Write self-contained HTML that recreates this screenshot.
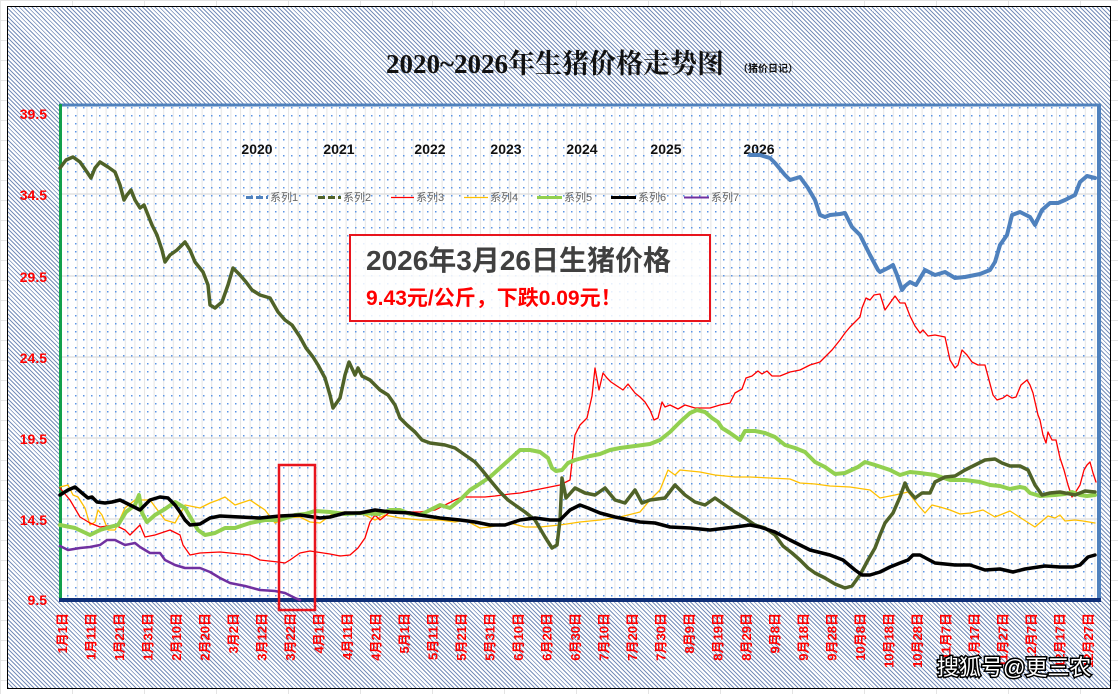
<!DOCTYPE html>
<html><head><meta charset="utf-8"><style>
body{margin:0;width:1118px;height:694px;overflow:hidden;background:#fff;position:relative;font-family:"Liberation Sans","Noto Sans CJK SC",sans-serif}
.grid{position:absolute;left:0;top:0;width:1118px;height:694px;background-image:linear-gradient(#e4e4e4 1px,transparent 1px),linear-gradient(90deg,#e4e4e4 1px,transparent 1px);background-size:72px 20px}
.frame{position:absolute;left:7px;top:6px;width:1102px;height:681px;border:1px solid #000;background:repeating-linear-gradient(45deg,#7890bb 0 1px,#fff 1px 3px)}
</style></head><body>
<div class="grid"></div>
<div class="frame"></div>
<svg width="1118" height="694" style="position:absolute;left:0;top:0" font-family="Liberation Sans, Noto Sans CJK SC, sans-serif">
<defs>
<pattern id="dots" width="8" height="8" patternUnits="userSpaceOnUse"><rect x="3" y="3" width="1.5" height="1.5" fill="#5b95e6"/></pattern>
<pattern id="vg" width="9.6" height="10" patternUnits="userSpaceOnUse"><rect x="0" y="0" width="1" height="10" fill="#e6e6e6"/></pattern>
</defs>
<rect x="59" y="104" width="1042" height="496" fill="#fff"/>
<rect x="59" y="104" width="1042" height="496" fill="url(#vg)"/>
<g stroke="#dcdcdc" stroke-width="1.2"><line x1="59" x2="1100" y1="194" y2="194"/><line x1="59" x2="1100" y1="276" y2="276"/><line x1="59" x2="1100" y1="357" y2="357"/><line x1="59" x2="1100" y1="438" y2="438"/><line x1="59" x2="1100" y1="519" y2="519"/></g>
<rect x="59" y="104" width="1042" height="496" fill="url(#dots)"/>
<line x1="59" y1="105" x2="1101" y2="105" stroke="#4f81bd" stroke-width="3"/>
<line x1="1099" y1="104" x2="1099" y2="600" stroke="#4f81bd" stroke-width="4"/>
<line x1="60.5" y1="104" x2="60.5" y2="600" stroke="#12a04c" stroke-width="3"/>
<line x1="59" y1="600" x2="1101" y2="600" stroke="#0f2f78" stroke-width="4"/>
<text x="555" y="73" text-anchor="middle" font-family="Liberation Serif, Noto Serif CJK SC, serif" font-weight="bold" font-size="27" fill="#111">2020~2026年生猪价格走势图</text>
<text x="738" y="72" font-size="10" font-weight="bold" fill="#111">（猪价日记）</text>
<g font-size="14" font-weight="bold" fill="#111" text-anchor="middle"><text x="257" y="154">2020</text><text x="339" y="154">2021</text><text x="430" y="154">2022</text><text x="506" y="154">2023</text><text x="582" y="154">2024</text><text x="666" y="154">2025</text><text x="759" y="154">2026</text></g>
<g font-size="11" fill="#666">
<line x1="246" x2="268" y1="197.5" y2="197.5" stroke="#4f81bd" stroke-width="3" stroke-dasharray="7,3"/><text x="270" y="201">系列1</text>
<line x1="318" x2="341" y1="197.5" y2="197.5" stroke="#4f6228" stroke-width="3" stroke-dasharray="7,3"/><text x="343" y="201">系列2</text>
<line x1="391" x2="414" y1="197.5" y2="197.5" stroke="#f00" stroke-width="1.3"/><text x="416" y="201">系列3</text>
<line x1="464" x2="488" y1="197.5" y2="197.5" stroke="#ffc000" stroke-width="1.3"/><text x="490" y="201">系列4</text>
<line x1="537" x2="562" y1="197.5" y2="197.5" stroke="#92d050" stroke-width="3"/><text x="564" y="201">系列5</text>
<line x1="611" x2="636" y1="197.5" y2="197.5" stroke="#000" stroke-width="3"/><text x="638" y="201">系列6</text>
<line x1="684" x2="709" y1="197.5" y2="197.5" stroke="#7030a0" stroke-width="2"/><text x="711" y="201">系列7</text>
</g>
<g fill="none" stroke-linejoin="round" stroke-linecap="round">
<polyline stroke="#ffc000" stroke-width="1.3" points="60,487 68,485 73,495 78,497 85,508 90,525 95,522 98,510 102,515 108,530 115,530 125,508 135,500 150,500 165,520 175,523 185,505 200,508 210,503 218,500 225,497 235,505 250,500 265,510 275,523 285,518 300,517 310,522 320,523 335,512 350,512 365,515 375,520 385,515 400,518 420,520 440,520 455,522 465,520 480,528 490,527 500,525 510,523 525,527 540,527 560,525 580,522 600,520 620,517 640,512 650,500 660,490 668,470 675,475 680,470 700,472 715,475 735,477 750,477 770,478 790,479 800,483 815,484 830,486 850,487 870,490 880,498 895,495 908,492 918,505 925,513 932,505 940,507 950,510 960,514 970,513 983,510 995,517 1010,511 1024,520 1035,527 1048,516 1055,518 1060,515 1065,521 1075,520 1083,521 1095,523"/>
<polyline stroke="#f00" stroke-width="1.3" points="60,488 70,500 80,517 90,523 100,527 115,525 125,530 130,535 135,530 140,525 145,537 155,535 170,530 180,535 183,545 190,555 200,553 220,552 240,554 250,555 260,560 278,562 285,563 290,560 300,553 310,551 330,554 340,556 350,555 358,548 365,538 370,522 375,515 380,520 390,512 398,510 410,512 420,512 435,510 445,505 455,500 462,497 470,497 485,497 495,496 510,494 520,493 540,489 560,485 570,480 575,435 580,425 587,418 592,396 595,368 599,390 603,373 607,378 611,382 617,386 623,390 628,384 635,393 640,397 645,402 650,410 654,420 658,418 662,402 665,407 670,405 678,409 685,405 695,408 710,408 720,405 730,403 735,393 742,389 746,378 752,376 758,371 762,374 767,371 772,376 780,376 790,372 800,370 810,365 820,362 825,357 832,350 840,340 845,333 850,327 855,322 860,317 862,308 866,298 870,300 874,295 880,294 885,310 890,303 895,296 900,303 905,303 910,316 915,326 920,333 923,330 928,336 935,335 945,337 950,360 955,368 958,365 962,350 967,355 972,362 978,365 985,365 989,380 993,395 997,400 1003,398 1007,395 1012,398 1016,397 1021,385 1027,380 1030,385 1033,393 1038,415 1040,420 1043,435 1046,443 1048,432 1052,440 1056,440 1060,458 1064,470 1068,485 1072,497 1075,493 1080,485 1084,470 1087,465 1090,462 1093,473 1096,482"/>
<polyline stroke="#92d050" stroke-width="4" points="60,525 75,528 90,535 100,530 110,527 118,525 126,512 135,505 139,495 142,513 147,522 155,515 165,509 175,502 185,508 192,520 198,530 205,535 215,533 225,528 235,528 250,523 265,520 280,520 295,515 305,514 315,511 330,512 345,514 360,513 378,514 390,510 400,510 410,514 420,515 430,510 440,505 450,508 460,500 470,490 478,485 490,477 500,468 510,459 520,450 530,450 540,452 548,458 552,468 556,471 562,470 568,463 575,460 590,456 600,454 610,450 620,448 635,446 650,444 660,440 670,432 680,422 690,413 697,410 705,412 712,418 718,422 722,428 730,433 740,440 745,431 755,431 765,433 775,437 785,445 795,448 805,452 815,462 825,467 835,474 845,473 858,467 865,462 875,465 890,470 900,475 910,472 920,473 935,475 950,480 965,480 980,482 990,485 1000,486 1010,489 1020,487 1025,488 1030,493 1040,496 1055,495 1065,494 1072,492 1080,495 1087,496 1095,495"/>
<polyline stroke="#4f6228" stroke-width="3.5" points="60,168 66,160 73,157 80,162 87,172 91,178 95,168 100,162 108,167 115,172 120,185 124,200 127,195 131,190 135,200 140,208 144,205 148,215 152,225 157,235 162,250 165,262 170,255 177,250 185,242 190,250 195,262 203,272 208,285 210,305 215,308 222,302 228,285 233,268 240,275 246,282 252,290 260,295 270,298 278,312 285,320 292,325 300,337 306,348 313,357 318,365 325,378 330,395 333,408 340,398 345,375 349,362 355,375 358,368 362,376 370,380 380,390 388,395 395,405 400,418 407,425 415,432 422,440 430,443 445,445 455,448 465,455 475,462 482,470 490,480 500,492 508,500 515,505 525,512 535,520 545,537 552,548 557,545 560,520 562,478 566,498 575,488 585,493 595,495 605,488 615,500 625,503 635,490 642,503 650,500 665,498 675,485 685,495 695,502 705,505 715,498 725,505 735,512 745,518 755,525 765,528 775,535 783,546 792,553 800,560 808,568 815,573 825,578 835,584 845,588 852,586 860,575 868,560 875,548 880,535 885,523 893,513 900,497 905,483 908,490 915,498 922,493 930,493 935,482 945,477 955,476 965,470 975,465 985,460 995,459 1002,463 1010,466 1020,466 1028,470 1035,485 1042,495 1050,493 1060,492 1075,495 1085,491 1095,492"/>
<polyline stroke="#000" stroke-width="3.5" points="60,495 68,490 75,487 82,493 88,498 92,497 97,502 105,503 112,502 120,500 130,505 140,510 145,505 150,500 160,497 168,498 175,505 180,512 185,520 190,525 200,524 210,518 220,516 240,517 260,518 280,516 300,515 320,518 330,517 345,513 360,513 375,510 390,512 410,513 420,515 440,518 460,520 475,522 490,525 505,525 520,520 535,518 550,520 560,520 570,510 580,505 588,508 600,513 615,517 630,520 640,522 655,523 670,527 690,528 710,530 735,527 750,525 760,527 775,532 790,540 800,545 810,550 830,555 843,560 855,570 862,575 870,575 880,572 890,567 900,563 908,560 913,555 920,555 935,563 955,565 970,565 985,570 1000,569 1013,572 1025,569 1045,566 1060,567 1073,567 1080,565 1088,557 1095,555"/>
<polyline stroke="#7030a0" stroke-width="2.5" points="60,546 68,550 80,548 90,547 100,545 107,540 115,540 125,545 135,543 140,547 145,550 150,553 160,553 165,560 175,565 185,568 200,568 210,572 220,578 230,583 245,586 260,590 275,591 285,593 295,598 300,600"/>
<polyline stroke="#4f81bd" stroke-width="4" points="750,155 760,155 770,158 775,163 785,175 790,180 800,177 808,188 815,200 820,215 825,217 830,215 840,214 845,213 852,227 860,235 870,255 878,270 880,272 888,268 893,265 897,275 902,290 905,286 910,282 916,285 925,270 935,275 945,272 955,278 965,277 980,274 990,270 995,262 1000,245 1007,235 1012,215 1020,212 1030,217 1035,225 1042,210 1050,203 1058,203 1065,200 1075,195 1080,182 1087,176 1095,178"/>
</g>
<rect x="279" y="465" width="36" height="145" fill="none" stroke="#e8141c" stroke-width="2.5"/>
<rect x="350" y="235" width="360" height="86" fill="#fff" fill-opacity="0.85" stroke="#e8141c" stroke-width="2"/>
<text x="366" y="270" font-size="28" font-weight="bold" fill="#404040">2026年3月26日生猪价格</text>
<text x="366" y="305" font-size="21" font-weight="bold" fill="#f00">9.43元/公斤，下跌0.09元！</text>
<g font-size="14" font-weight="bold" fill="#f00" text-anchor="end"><text x="47" y="119">39.5</text><text x="47" y="200">34.5</text><text x="47" y="282">29.5</text><text x="47" y="363">24.5</text><text x="47" y="444">19.5</text><text x="47" y="525">14.5</text><text x="47" y="605">9.5</text></g>
<g font-size="13" font-weight="bold" fill="#f00" text-anchor="end" id="xl"></g>
<text x="937" y="675" font-size="22" fill="#fff" stroke="#000" stroke-width="3" paint-order="stroke">搜狐号@更三农</text>
</svg>
<script>
var L=["1月1日","1月11日","1月21日","1月31日","2月10日","2月20日","3月2日","3月12日","3月22日","4月1日","4月11日","4月21日","5月1日","5月11日","5月21日","5月31日","6月10日","6月20日","6月30日","7月10日","7月20日","7月30日","8月9日","8月19日","8月29日","9月8日","9月18日","9月28日","10月8日","10月18日","10月28日","11月7日","11月17日","11月27日","12月7日","12月17日","12月27日"];
var g=document.getElementById("xl"),s="";
for(var i=0;i<L.length;i++){var x=67+i*28.5;s+='<text transform="translate('+x+',613) rotate(-90)">'+L[i]+'</text>';}
g.innerHTML=s;
</script>
</body></html>
